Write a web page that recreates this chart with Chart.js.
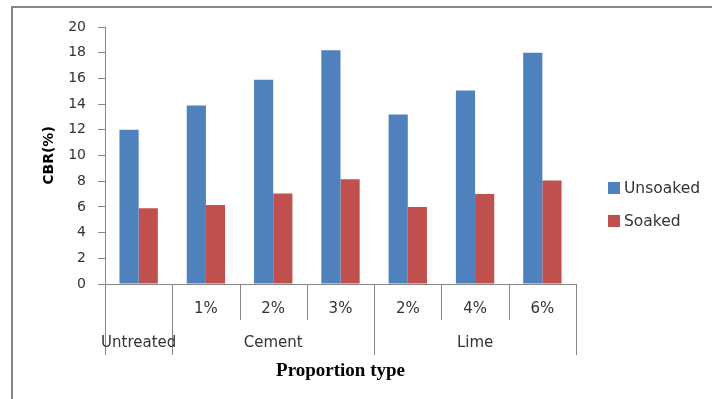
<!DOCTYPE html>
<html>
<head>
<meta charset="utf-8">
<script src="https://cdn.jsdelivr.net/npm/chart.js@4/dist/chart.umd.min.js"></script>
<style>
  html, body { margin: 0; padding: 0; background: #fff; }
  #wrap { width: 712px; height: 399px; position: relative; }
</style>
</head>
<body>
<div id="wrap"><canvas id="cbr"></canvas></div>
<script>
// Sub-category tick labels along the x axis
const categories = ['', '1%', '2%', '3%', '2%', '4%', '6%'];
// Second-level grouping under the sub-categories
const groupNames = ['Untreated', 'Cement', 'Lime'];
const groupSizes = [1, 3, 3];
// CBR values (%)
const unsoaked = [12.0, 13.9, 15.9, 18.2, 13.2, 15.05, 18.0];
const soaked = [5.9, 6.15, 7.05, 8.15, 6.0, 7.0, 8.05];
// Y axis range and tick step
const yMin = 0, yMax = 20, yStep = 2;

const AXIS = '#868686';
const TEXT = '#333333';
const SANS = 'DejaVu Sans';

// Outer frame, two-level category axis, and legend drawn on the canvas
const decorations = {
  id: 'decorations',
  beforeDraw(chart) {
    const ctx = chart.ctx;
    ctx.save();
    ctx.strokeStyle = AXIS;
    ctx.lineWidth = 2;
    ctx.beginPath();
    ctx.moveTo(712, 7);
    ctx.lineTo(12, 7);
    ctx.lineTo(12, 399);
    ctx.stroke();
    ctx.restore();
  },
  afterDraw(chart) {
    const ctx = chart.ctx;
    const x = chart.scales.x;
    const base = chart.chartArea.bottom;
    // group boundary indices
    const groupEdges = new Set([0]);
    let acc = 0;
    groupSizes.forEach(s => { acc += s; groupEdges.add(acc); });

    ctx.save();
    ctx.strokeStyle = AXIS;
    ctx.lineWidth = 1;
    for (let i = 0; i <= categories.length; i++) {
      const px = Math.round(x.getPixelForValue(i - 0.5)) + 0.5;
      const len = groupEdges.has(i) ? 71 : 36;
      ctx.beginPath();
      ctx.moveTo(px, base);
      ctx.lineTo(px, base + len);
      ctx.stroke();
    }

    // group labels
    ctx.fillStyle = TEXT;
    ctx.font = '15px "' + SANS + '"';
    ctx.textAlign = 'center';
    ctx.textBaseline = 'middle';
    let start = 0;
    groupNames.forEach((name, g) => {
      const l = x.getPixelForValue(start - 0.5);
      const r = x.getPixelForValue(start + groupSizes[g] - 0.5);
      ctx.fillText(name, (l + r) / 2, base + 59);
      start += groupSizes[g];
    });

    // legend
    ctx.textAlign = 'left';
    ctx.font = '15.5px "' + SANS + '"';
    chart.data.datasets.forEach((ds, i) => {
      const cy = 188 + i * 33;
      ctx.fillStyle = ds.backgroundColor;
      ctx.fillRect(608, cy - 6, 12, 12);
      ctx.fillStyle = TEXT;
      ctx.fillText(ds.label, 624, cy + 1);
    });
    ctx.restore();
  }
};

new Chart(document.getElementById('cbr'), {
  type: 'bar',
  data: {
    labels: categories,
    datasets: [
      { label: 'Unsoaked', data: unsoaked, backgroundColor: '#4F81BD' },
      { label: 'Soaked', data: soaked, backgroundColor: '#C0504D' }
    ]
  },
  options: {
    responsive: true,
    maintainAspectRatio: false,
    animation: false,
    devicePixelRatio: 1,
    layout: { padding: { left: 0, right: 136, top: 27, bottom: 0 } },
    datasets: { bar: { categoryPercentage: 0.57, barPercentage: 1.0 } },
    plugins: {
      legend: { display: false },
      tooltip: { enabled: false }
    },
    scales: {
      x: {
        grid: { display: false, drawTicks: false },
        border: { display: true, color: AXIS, width: 1 },
        ticks: {
          color: TEXT,
          font: { family: SANS, size: 15 },
          padding: 16,
          maxRotation: 0,
          autoSkip: false
        },
        title: {
          display: true,
          text: 'Proportion type',
          color: '#000',
          font: { family: 'Liberation Serif', size: 19, weight: 'bold' },
          padding: { top: 0, bottom: 17 }
        },
        afterFit(scale) { scale.height = 399 - 284; }
      },
      y: {
        min: yMin,
        max: yMax,
        grid: { display: true, drawOnChartArea: false, drawTicks: true, tickLength: 7, color: AXIS },
        border: { display: true, color: AXIS, width: 1 },
        ticks: {
          stepSize: yStep,
          color: TEXT,
          font: { family: SANS, size: 14 },
          padding: 12
        },
        title: {
          display: true,
          text: 'CBR(%)',
          color: '#000',
          font: { family: SANS, size: 14, weight: 'bold' },
          padding: { top: 41, bottom: 0 }
        },
        afterFit(scale) { scale.width = 105; }
      }
    }
  },
  plugins: [decorations]
});
</script>
</body>
</html>
